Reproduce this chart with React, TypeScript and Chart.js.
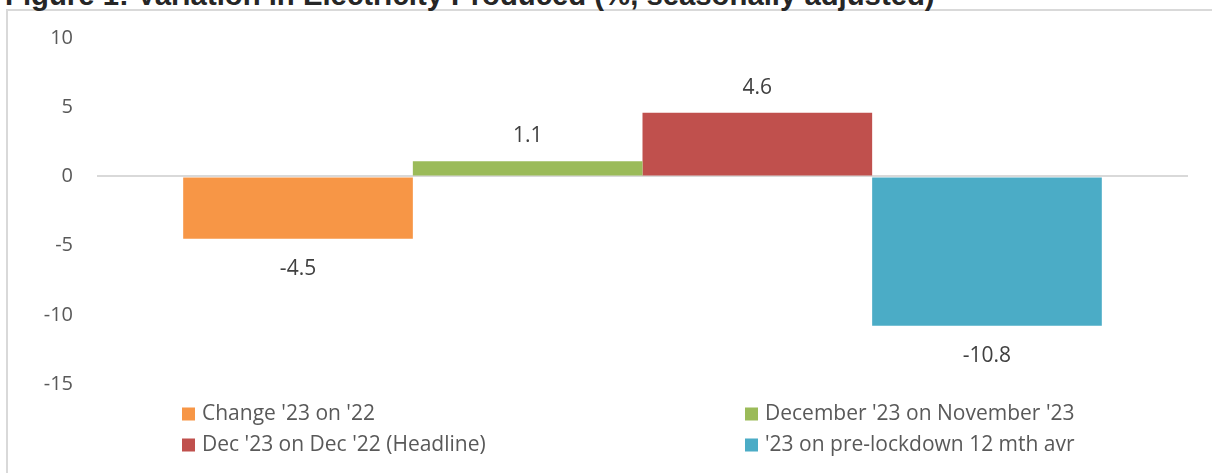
import React, { useEffect, useRef } from "react";
import { Chart, registerables } from "chart.js";

Chart.register(...registerables);

const TITLE = "Figure 1: Variation in Electricity Produced (%, seasonally adjusted)";
const categories = [""];
const seriesNames = [
  "Change '23 on '22",
  "December '23 on November '23",
  "Dec '23 on Dec '22 (Headline)",
  "'23 on pre-lockdown 12 mth avr",
];
const changeYearOnYear = [-4.5];
const decemberOnNovember = [1.1];
const decemberOnDecember = [4.6];
const onPreLockdownAverage = [-10.8];
const seriesValues = [changeYearOnYear, decemberOnNovember, decemberOnDecember, onPreLockdownAverage];
const seriesColors = ["#F79646", "#9BBB59", "#C0504D", "#4BACC6"];
const yMin = -15;
const yMax = 10;
const yStep = 5;

const FONT = "'Open Sans', 'Noto Sans', sans-serif";

const dataLabelPlugin = {
  id: "dataLabels",
  afterDatasetsDraw(chart: any) {
    const ctx = chart.ctx;
    ctx.save();
    ctx.font = `21px ${FONT}`;
    ctx.fillStyle = "#404040";
    ctx.textAlign = "center";
    ctx.textBaseline = "middle";
    chart.data.datasets.forEach((ds: any, i: number) => {
      const meta = chart.getDatasetMeta(i);
      meta.data.forEach((bar: any, j: number) => {
        const v = ds.data[j] as number;
        const y = v >= 0 ? bar.y - 25 : bar.y + 30;
        ctx.fillText(v.toFixed(1), bar.x, y);
      });
    });
    ctx.restore();
  },
};

const gridLegendPlugin = {
  id: "gridLegend",
  afterDraw(chart: any) {
    const ctx = chart.ctx;
    const area = chart.chartArea;
    const colX = [area.left + 85, area.left + 648];
    const rowY = [area.bottom + 30, area.bottom + 61];
    ctx.save();
    ctx.font = `21px ${FONT}`;
    ctx.textAlign = "left";
    ctx.textBaseline = "middle";
    chart.data.datasets.forEach((ds: any, i: number) => {
      const x = colX[i % 2];
      const y = rowY[Math.floor(i / 2)];
      ctx.fillStyle = ds.backgroundColor;
      ctx.fillRect(x, y - 6.5, 13, 13);
      ctx.fillStyle = "#595959";
      ctx.fillText(ds.label, x + 20, y);
    });
    ctx.restore();
  },
};

export default function App() {
  const canvasRef = useRef<HTMLCanvasElement | null>(null);

  useEffect(() => {
    if (!canvasRef.current) return;
    const chart = new Chart(canvasRef.current, {
      type: "bar",
      data: {
        labels: categories,
        datasets: seriesNames.map((name, i) => ({
          label: name,
          data: seriesValues[i],
          backgroundColor: seriesColors[i],
          borderWidth: 0,
          barPercentage: 1,
          categoryPercentage: 0.842,
        })),
      },
      options: {
        animation: false,
        responsive: true,
        maintainAspectRatio: false,
        layout: { padding: { top: 38, bottom: 89, right: 24, left: 0 } },
        plugins: {
          legend: { display: false },
          title: { display: false },
          tooltip: { enabled: false },
        },
        scales: {
          x: { display: false },
          y: {
            min: yMin,
            max: yMax,
            z: 1,
            afterFit: (scale: any) => {
              scale.width = 97;
            },
            ticks: {
              stepSize: yStep,
              padding: 24,
              color: "#595959",
              font: { family: FONT, size: 20 },
            },
            border: { display: false },
            grid: {
              drawTicks: false,
              lineWidth: 2,
              color: (c: any) => (c.tick && c.tick.value === 0 ? "#d9d9d9" : "rgba(0,0,0,0)"),
            },
          },
        },
      },
      plugins: [dataLabelPlugin, gridLegendPlugin],
    });
    return () => chart.destroy();
  }, []);

  return (
    <div
      style={{
        position: "fixed",
        left: 0,
        top: 0,
        width: 1212,
        height: 473,
        overflow: "hidden",
        background: "#ffffff",
      }}
    >
      <div
        style={{
          position: "absolute",
          left: 6,
          top: 9,
          width: 1300,
          height: 600,
          border: "2px solid #d9d9d9",
          boxSizing: "border-box",
        }}
      />
      <div
        style={{
          position: "absolute",
          left: 5,
          top: -20,
          whiteSpace: "nowrap",
          fontFamily: "'Liberation Sans', Arial, sans-serif",
          fontWeight: "bold",
          fontSize: 29.3,
          lineHeight: "29px",
          color: "#262626",
        }}
      >
        {TITLE}
      </div>
      <div style={{ position: "absolute", left: 0, top: 0, width: 1212, height: 473 }}>
        <canvas ref={canvasRef} />
      </div>
    </div>
  );
}
